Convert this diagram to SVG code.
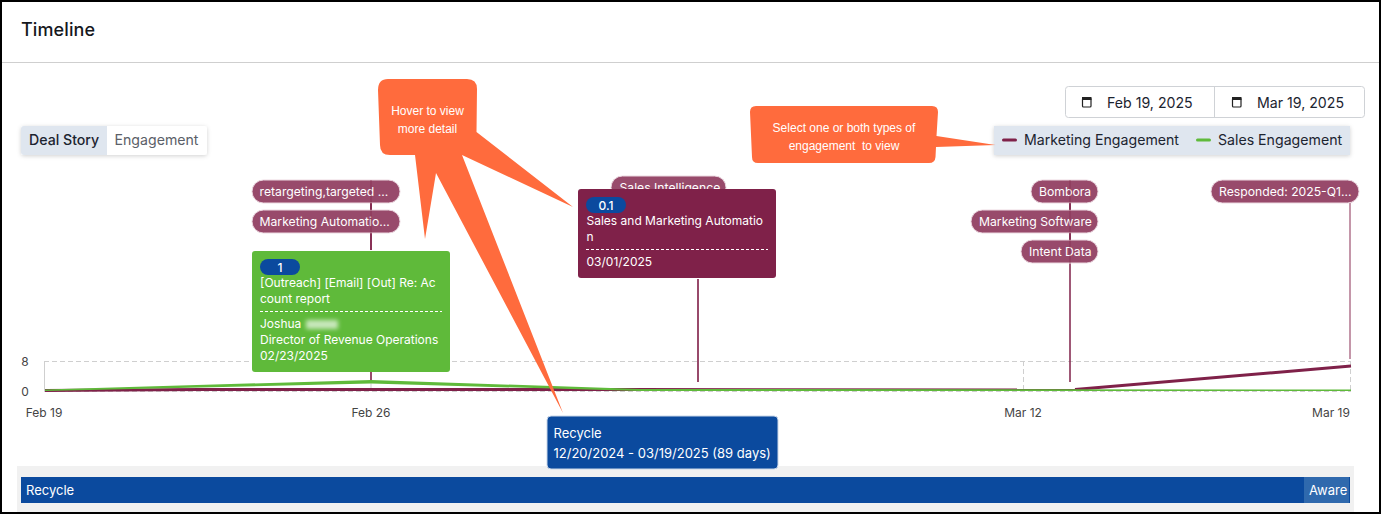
<svg xmlns="http://www.w3.org/2000/svg" width="1381" height="514" viewBox="0 0 1381 514">
<defs>
<style>
text{font-family:Inter,"Liberation Sans",sans-serif}
.tag rect{fill:#984a6b;stroke:#ecd9e1;stroke-width:1}
.tag text{fill:#fff;font-size:12.2px}
.w{fill:#fff;font-size:12px}
.ax{fill:#444;font-size:12px;text-anchor:middle}
.grid{stroke:#cfcfcf;stroke-width:1;stroke-dasharray:5 3;fill:none}
.stem{fill:none;stroke:#984a6b;stroke-width:2}
.badge{fill:#0b4a9e}
.dash{stroke:#fff;stroke-width:1;stroke-dasharray:3 2}
.call{fill:#ff6b3d}
.ct{fill:#fff;font-family:"Liberation Sans",Arial,sans-serif;font-size:12px;text-anchor:middle;white-space:pre}
.dk{fill:#1c2430;font-size:14.15px}
</style>
<filter id="blur" x="-30%" y="-60%" width="160%" height="220%"><feGaussianBlur stdDeviation="2"/></filter>
<filter id="sh" x="-5%" y="-20%" width="110%" height="150%"><feDropShadow dx="0" dy="1" stdDeviation="2" flood-color="#000" flood-opacity=".18"/></filter>
</defs>
<rect x="0" y="0" width="1381" height="514" fill="#fff"/>
<g id="header"><line x1="2" y1="62.5" x2="1379" y2="62.5" stroke="#cfcfcf"/>
<text x="21" y="35.500" fill="#16181d" style="font-size:18px;font-weight:550;letter-spacing:.1px">Timeline</text></g>

<g id="toggle"><rect x="21" y="126" width="186" height="29" rx="3" fill="#fff" filter="url(#sh)"/>
<path d="M24,126H107V155H24a3,3 0 0 1-3-3V129a3,3 0 0 1 3-3Z" fill="#dfe6ef"/>
<text x="29" y="145" class="dk" style="font-weight:450">Deal Story</text><text x="114.500" y="145" class="dk" style="fill:#5b6068">Engagement</text></g>

<g id="dates"><rect x="1065.5" y="86.5" width="299" height="31" rx="3" fill="#fff" stroke="#cfd2d6"/><line x1="1214.5" y1="87" x2="1214.5" y2="117" stroke="#cfd2d6"/>
<g fill="none" stroke="#222" stroke-width="1.2"><rect x="1082.5" y="98" width="8.5" height="9" rx="1"/><rect x="1232.500" y="98" width="8.500" height="9" rx="1"/></g>
<rect x="1082" y="97" width="9.500" height="3" fill="#222"/><rect x="1232" y="97" width="9.500" height="3" fill="#222"/>
<text x="1107" y="108" class="dk">Feb 19, 2025</text><text x="1257" y="108" class="dk">Mar 19, 2025</text></g>

<g id="legend"><rect x="994" y="126" width="356" height="29" fill="#dfe6ef" filter="url(#sh)"/>
<rect x="1002" y="138.500" width="15" height="3" rx="1.500" fill="#7f2149"/><text x="1024" y="145" class="dk">Marketing Engagement</text>
<rect x="1196" y="138.500" width="15" height="3" rx="1.500" fill="#5fba3a"/><text x="1218" y="145" class="dk">Sales Engagement</text></g>

<g id="chart">
<path class="grid" d="M44,361.500H1351M44,391.500H1351M1023.500,361V391M1350.500,361V391"/>
<path d="M44.500,361V391M371,381V391" stroke="#cfcfcf" fill="none"/>
<text class="ax" x="25" y="366">8</text><text class="ax" x="25" y="396">0</text>
<text class="ax" x="44" y="417">Feb 19</text><text class="ax" x="371" y="417">Feb 26</text><text class="ax" x="1023" y="417">Mar 12</text><text class="ax" x="1331" y="417">Mar 19</text>
</g>

<g id="connectors">
<path class="stem" d="M371,203V250M371,372V382M698,279V382"/>
<path d="M1070,203V382" fill="none" stroke="#7f2149" stroke-width="1.500"/>
<path d="M1350,203V359" fill="none" stroke="#c496a9" stroke-width="2"/>
<path d="M45,390.500L200,389.500L640,389.500" fill="none" stroke="#7f2149" stroke-width="3"/>
<path d="M640,389L1075,389.500" fill="none" stroke="#7f2149" stroke-width="2"/>
<path d="M1075,389.500L1351,366" fill="none" stroke="#7f2149" stroke-width="3"/>
<path d="M45,389.500L371,380L640,389L1351,389.500V391H640L371,383.500L45,391Z" fill="#5fba3a"/>
</g>

<g id="tag-retargeting" class="tag"><rect x="252" y="180" width="148" height="23" rx="11.500"/><text x="259.500" y="196">retargeting,targeted ...</text></g>
<g id="tag-marketing-automation" class="tag"><rect x="252" y="210" width="148" height="23" rx="11.500"/><text x="259.500" y="226">Marketing Automatio...</text></g>
<g id="tag-sales-intelligence" class="tag"><rect x="611" y="176" width="115" height="23" rx="11.500"/><text x="619.500" y="192">Sales Intelligence</text></g>
<g id="tag-bombora" class="tag"><rect x="1031" y="180" width="67" height="23" rx="11.500"/><text x="1039" y="196">Bombora</text></g>
<g id="tag-marketing-software" class="tag"><rect x="971" y="210" width="127" height="23" rx="11.500"/><text x="979" y="226">Marketing Software</text></g>
<g id="tag-intent-data" class="tag"><rect x="1021" y="240" width="77" height="23" rx="11.500"/><text x="1029" y="256">Intent Data</text></g>
<g id="tag-responded" class="tag"><rect x="1211" y="180" width="148" height="23" rx="11.500"/><text x="1219" y="196">Responded: 2025-Q1...</text></g>
<path d="M371,203V210M371,233V250M1070,203V210M1070,233V240" stroke="#7f2149" stroke-width="2" stroke-opacity=".6" fill="none"/>
<path d="M371,180V233M1070,180V263" stroke="#7f2149" stroke-width="1.500" stroke-opacity=".35" fill="none"/>

<g id="card-green"><rect x="252" y="251" width="198" height="121" rx="3" fill="#5fba3a"/>
<rect x="260" y="259" width="40" height="16" rx="8" class="badge"/><text x="280" y="272" class="w" text-anchor="middle" font-weight="500">1</text>
<text x="260" y="287" class="w">[Outreach] [Email] [Out] Re: Ac</text><text x="260" y="303" class="w">count report</text>
<line x1="260" y1="311.500" x2="442" y2="311.500" class="dash"/>
<text x="260" y="328" class="w">Joshua</text><rect x="306" y="320" width="32" height="9" fill="#fff" opacity=".65" filter="url(#blur)"/>
<text x="260" y="344" class="w">Director of Revenue Operations</text><text x="260" y="360" class="w">02/23/2025</text></g>

<g id="card-maroon"><rect x="578" y="189" width="198" height="89" rx="3" fill="#7f2149"/>
<rect x="586" y="197" width="40" height="16" rx="8" class="badge"/><text x="606" y="210" class="w" text-anchor="middle" font-weight="500">0.1</text>
<text x="586.500" y="225" class="w">Sales and Marketing Automatio</text><text x="586.500" y="241" class="w">n</text>
<line x1="586" y1="249.500" x2="768" y2="249.500" class="dash"/>
<text x="586.500" y="266" class="w">03/01/2025</text></g>

<g id="bar"><rect x="17" y="466" width="1337" height="46" fill="#f1f1f1"/><rect x="21" y="477" width="1329" height="26" fill="#0b4a9e"/><rect x="1304" y="477" width="45" height="26" fill="#2f69ad"/>
<text x="26" y="495" class="w" style="font-size:13px">Recycle</text><text x="1309" y="495" class="w" style="font-size:13px">Aware</text></g>

<g id="tooltip-recycle"><rect x="547" y="416" width="231" height="53" rx="4" fill="#0b4a9e" stroke="#c9d6e8"/>
<text x="553.500" y="438" class="w" style="font-size:13px">Recycle</text><text x="553.500" y="458" class="w" style="font-size:13px">12/20/2024 - 03/19/2025 (89 days)</text></g>

<g id="callout-hover"><path class="call" d="M388,79H467Q477,79 477,89L476.500,132L573,207L462,155L563,413L436,173L425,239L415,155H390Q380,155 380,145L378,90Q378,79 388,79Z"/>
<text x="427.500" y="115" class="ct">Hover to view</text><text x="427.500" y="133" class="ct">more detail</text></g>
<g id="callout-select"><path class="call" d="M756,106H932Q938,106 938,112L936.500,136L995.500,145L936,147L935.500,157Q935,163 929,163H758Q752,163 752,157L750,112Q750,106 756,106Z"/>
<text x="844" y="132" class="ct">Select one or both types of</text><text x="844" y="150" class="ct">engagement  to view</text></g>

<rect x="1" y="1" width="1379" height="512" fill="none" stroke="#000" stroke-width="2"/>
</svg>
